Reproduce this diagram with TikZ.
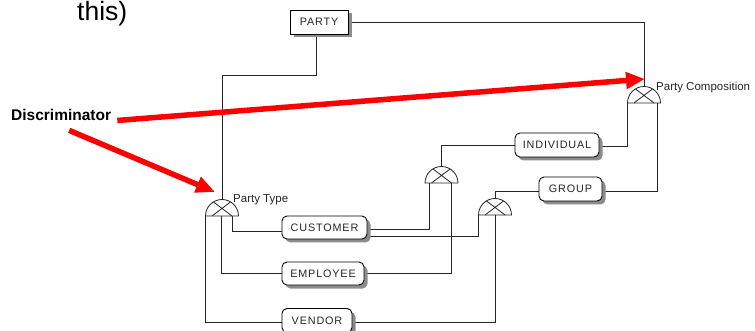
\documentclass[tikz,border=0pt]{standalone}
\usepackage{fontspec}
\setmainfont{Liberation Sans}
\newfontfamily\boxfont[LetterSpace=8]{Liberation Sans}
\usetikzlibrary{arrows.meta,shadows}
\pgfdeclarelayer{background}
\pgfsetlayers{background,main}
\tikzset{
  ent/.style={draw=black, line width=0.9pt, fill=white, inner sep=0pt,
    minimum height=24pt, text=black!85,
    font=\boxfont\fontsize{10.8}{12}\selectfont,
    drop shadow={shadow xshift=3.5pt, shadow yshift=-3.5pt, fill=black!45, opacity=1}},
  cat/.style={ent, rounded corners=5pt},
  exsym/.style={rectangle, draw=none, minimum width=33pt, minimum height=16.5pt,
    inner sep=0pt, outer sep=0pt, anchor=south},
  symline/.style={draw=black!85, line width=0.8pt},
  conn/.style={draw=black!85, line width=0.8pt},
  lbl/.style={inner sep=0pt, anchor=base west, text=black!85,
    font=\fontsize{11.5}{13}\selectfont},
  pointer/.style={draw=red, line width=5.5pt,
    -{Triangle[length=19pt,width=16pt]}}
}
\begin{document}
\begin{tikzpicture}[x=1pt,y=-1pt]
\useasboundingbox (0,0) rectangle (755,331);

% heading fragment and callout label
\node[inner sep=0pt, anchor=base west, font=\fontsize{26.5}{30}\selectfont] (ttl) at (77,21) {this)};
\node[inner sep=0pt, anchor=base west, font=\bfseries\fontsize{15.5}{18}\selectfont] (disc) at (11,121) {Discriminator};

% entities
\node[ent, minimum width=58pt] (party) at (319,22) {PARTY};
\node[cat, minimum width=84pt] (individual) at (557,145) {INDIVIDUAL};
\node[cat, minimum width=63pt] (group) at (570.5,189) {GROUP};
\node[cat, minimum width=85pt, minimum height=23pt] (customer) at (324.5,227.5) {CUSTOMER};
\node[cat, minimum width=82pt, minimum height=23pt] (employee) at (323,273.5) {EMPLOYEE};
\node[cat, minimum width=70pt] (vendor) at (317,320.5) {VENDOR};

% exclusive subtype symbols (placed by base centre)
\node[exsym] (pc) at (644,103) {};
\node[exsym] (sym1) at (441.5,183) {};
\node[exsym] (sym2) at (495,215) {};
\node[exsym] (ptype) at (222,216) {};

\foreach \s in {pc,sym1,sym2,ptype} {
  \draw[symline, fill=white] (\s.south west) arc[start angle=180, end angle=0, radius=16.5pt] -- cycle;
  \draw[symline] ([xshift=-10pt]\s.south) -- ([xshift=8.5pt, yshift=14pt]\s.south)
                 ([xshift=10pt]\s.south) -- ([xshift=-8.5pt, yshift=14pt]\s.south);
}

\node[lbl] (ptlbl) at (233,203) {Party Type};
\node[lbl] (pclbl) at (656,90.5) {Party Composition};

% relationship lines
\begin{pgfonlayer}{background}
  \draw[conn] (party.east) -| (pc.north);
  \draw[conn] ([xshift=-3pt]party.south) -- ++(0,41) -| (ptype.north);
  \draw[conn] ([yshift=-1.5pt]individual.east) -| (pc.south west);
  \draw[conn] ([yshift=-2pt]group.east) -| ([xshift=-3pt]pc.south east);
  \draw[conn] (individual.west) -| (sym1.north);
  \draw[conn] ([yshift=-2.5pt]group.west) -| (sym2.north);
  \draw[conn] (ptype.south west) |- ([yshift=-1.5pt]vendor.west);
  \draw[conn] ([xshift=-1pt]ptype.south) |- (employee.west);
  \draw[conn] ([xshift=10pt]ptype.south) |- ([yshift=-4pt]customer.west);
  \draw[conn] ([yshift=-1.5pt]customer.east) -| ([xshift=-12.5pt]sym1.south);
  \draw[conn] ([yshift=-8.5pt]customer.east) -| (sym2.south west);
  \draw[conn] (employee.east) -| ([xshift=9.5pt]sym1.south);
  \draw[conn] ([yshift=-1.5pt]vendor.east) -| (sym2.south);
\end{pgfonlayer}

% discriminator pointers
\draw[pointer] ([shift={(6pt,-5pt)}]disc.east) -- ([shift={(1pt,7.5pt)}]pc.north);
\draw[pointer] ([shift={(8pt,-9pt)}]disc.south) -- ([shift={(-7pt,7.5pt)}]ptype.north);
\end{tikzpicture}
\end{document}
